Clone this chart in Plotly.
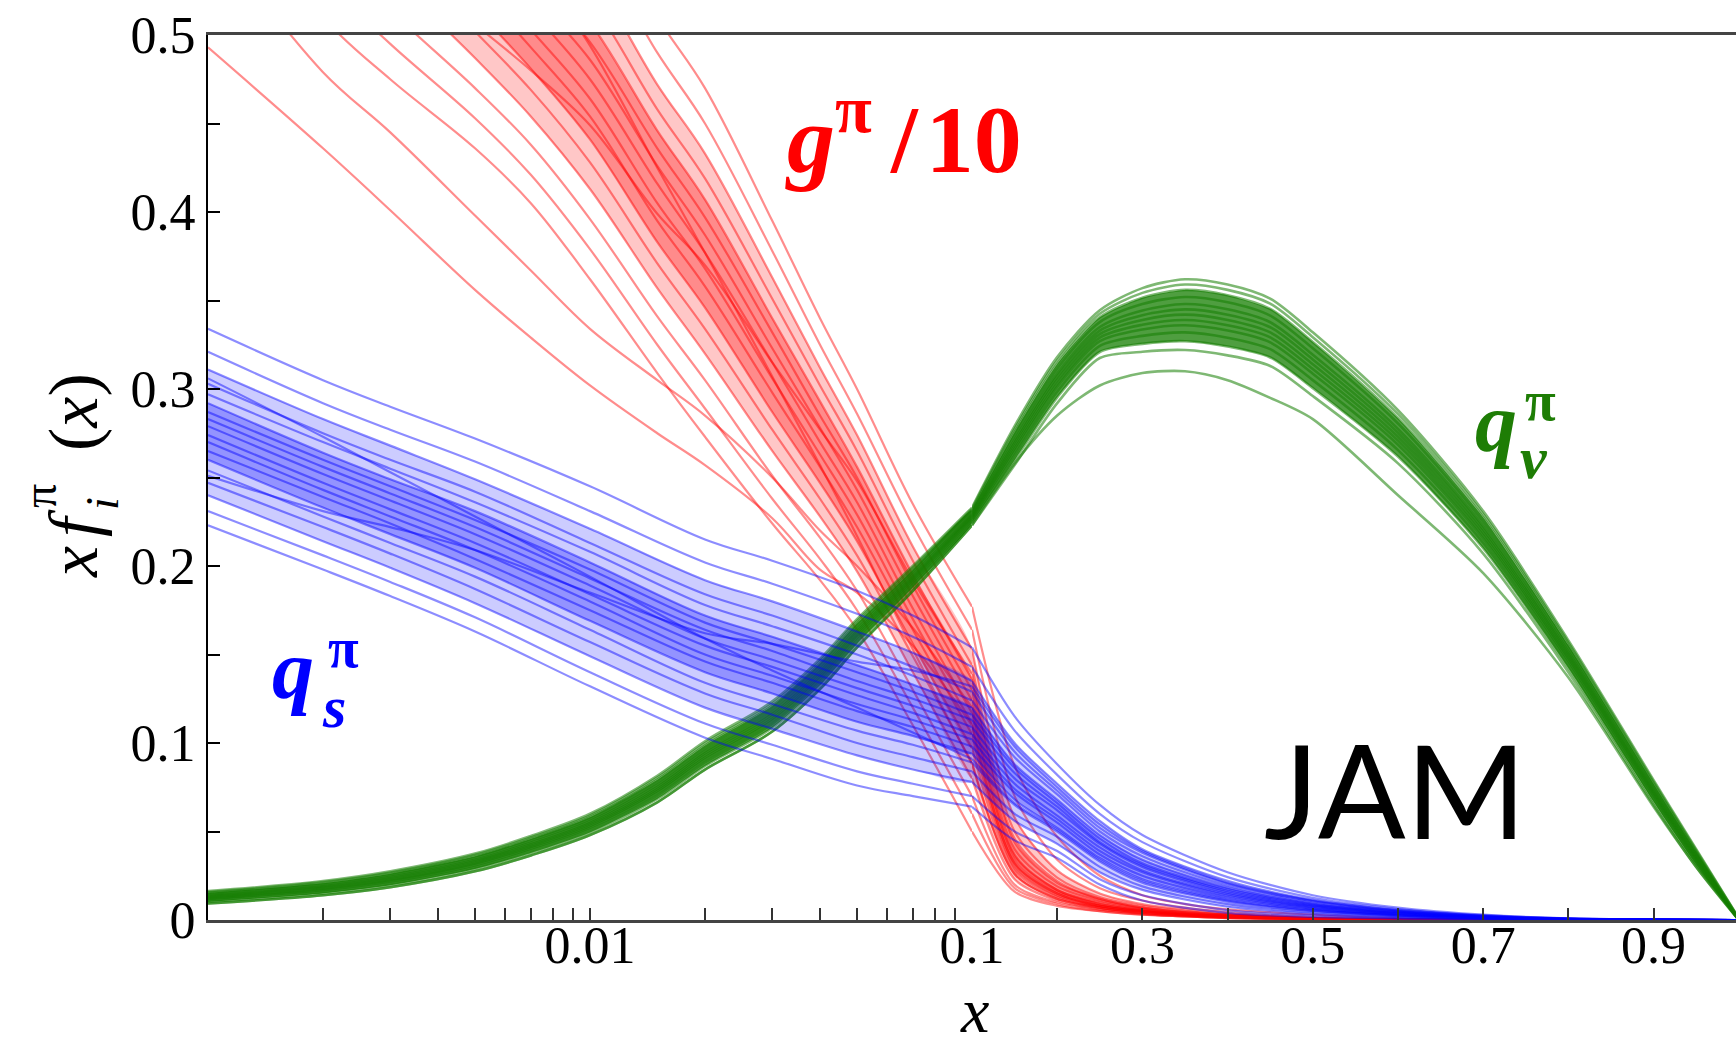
import plotly.graph_objects as go

# ---------------- data ----------------
# g^pi / 10 replicas (red)
RED_X_LOG = [0.001, 0.002, 0.003, 0.005, 0.007, 0.01, 0.015, 0.02, 0.03, 0.04, 0.05, 0.07, 0.1]
RED_X_LIN = [0.1, 0.15, 0.2, 0.25, 0.3, 0.35, 0.4, 0.5, 0.6, 0.8, 1.0]
RED_LOG = [
    [0.600, 0.510, 0.475, 0.436, 0.405, 0.362, 0.309, 0.273, 0.224, 0.192, 0.164, 0.110, 0.050],
    [0.622, 0.532, 0.495, 0.453, 0.421, 0.379, 0.325, 0.289, 0.238, 0.204, 0.175, 0.120, 0.060],
    [0.645, 0.553, 0.514, 0.470, 0.438, 0.396, 0.341, 0.305, 0.251, 0.216, 0.186, 0.130, 0.070],
    [0.667, 0.575, 0.534, 0.487, 0.454, 0.413, 0.357, 0.320, 0.265, 0.228, 0.197, 0.140, 0.080],
    [0.687, 0.594, 0.551, 0.502, 0.469, 0.428, 0.371, 0.334, 0.277, 0.238, 0.206, 0.149, 0.089],
    [0.704, 0.610, 0.566, 0.515, 0.481, 0.441, 0.383, 0.346, 0.287, 0.247, 0.214, 0.156, 0.097],
    [0.720, 0.626, 0.580, 0.528, 0.493, 0.454, 0.395, 0.358, 0.298, 0.256, 0.222, 0.164, 0.105],
    [0.734, 0.640, 0.593, 0.539, 0.503, 0.464, 0.405, 0.368, 0.306, 0.263, 0.229, 0.170, 0.111],
    [0.748, 0.653, 0.605, 0.549, 0.514, 0.475, 0.416, 0.377, 0.315, 0.270, 0.236, 0.176, 0.117],
    [0.762, 0.667, 0.617, 0.560, 0.524, 0.486, 0.426, 0.387, 0.323, 0.278, 0.243, 0.183, 0.124],
    [0.776, 0.680, 0.629, 0.571, 0.534, 0.496, 0.436, 0.397, 0.332, 0.285, 0.250, 0.189, 0.130],
    [0.790, 0.694, 0.642, 0.582, 0.544, 0.507, 0.446, 0.407, 0.340, 0.293, 0.256, 0.195, 0.136],
    [0.807, 0.710, 0.656, 0.594, 0.557, 0.520, 0.458, 0.419, 0.351, 0.302, 0.265, 0.203, 0.144],
    [0.827, 0.729, 0.673, 0.609, 0.571, 0.535, 0.472, 0.433, 0.363, 0.312, 0.274, 0.211, 0.153],
    [0.852, 0.753, 0.696, 0.629, 0.590, 0.554, 0.490, 0.450, 0.378, 0.325, 0.286, 0.223, 0.164],
    [0.880, 0.780, 0.720, 0.650, 0.610, 0.575, 0.510, 0.470, 0.395, 0.340, 0.300, 0.235, 0.177],
    [0.656, 0.575, 0.544, 0.506, 0.480, 0.449, 0.399, 0.370, 0.315, 0.277, 0.248, 0.192, 0.139],
    [0.838, 0.727, 0.661, 0.589, 0.542, 0.494, 0.425, 0.377, 0.307, 0.257, 0.217, 0.153, 0.088],
    [0.493, 0.436, 0.401, 0.356, 0.329, 0.302, 0.275, 0.257, 0.227, 0.198, 0.185, 0.155, 0.110],
    [0.560, 0.479, 0.445, 0.398, 0.367, 0.334, 0.305, 0.285, 0.250, 0.220, 0.200, 0.165, 0.120],
]
RED_LIN_TAIL = [
    [0.016, 0.008, 0.005, 0.003, 0.002, 0.001, 0.0003, 0, 0, 0],
    [0.018, 0.009, 0.005, 0.003, 0.002, 0.001, 0.0003, 0, 0, 0],
    [0.020, 0.010, 0.006, 0.0035, 0.002, 0.0012, 0.0004, 0.0001, 0, 0],
    [0.023, 0.011, 0.006, 0.004, 0.0025, 0.0015, 0.0005, 0.0001, 0, 0],
    [0.026, 0.012, 0.007, 0.004, 0.0025, 0.0015, 0.0005, 0.0001, 0, 0],
    [0.028, 0.013, 0.007, 0.0045, 0.003, 0.0018, 0.0006, 0.0002, 0, 0],
    [0.030, 0.014, 0.008, 0.005, 0.003, 0.002, 0.0007, 0.0002, 0, 0],
    [0.032, 0.015, 0.008, 0.005, 0.003, 0.002, 0.0007, 0.0002, 0, 0],
    [0.034, 0.016, 0.009, 0.0055, 0.0035, 0.0022, 0.0008, 0.0002, 0, 0],
    [0.037, 0.017, 0.010, 0.006, 0.0035, 0.0023, 0.0008, 0.0002, 0, 0],
    [0.040, 0.019, 0.011, 0.0065, 0.004, 0.0025, 0.0009, 0.0003, 0, 0],
    [0.044, 0.021, 0.012, 0.007, 0.0045, 0.003, 0.001, 0.0003, 0, 0],
    [0.050, 0.024, 0.013, 0.008, 0.005, 0.003, 0.001, 0.0003, 0, 0],
    [0.058, 0.028, 0.015, 0.009, 0.006, 0.0035, 0.0012, 0.0004, 0, 0],
    [0.070, 0.034, 0.018, 0.011, 0.007, 0.0045, 0.0015, 0.0005, 0.0001, 0],
    [0.087, 0.047, 0.025, 0.014, 0.009, 0.006, 0.003, 0.001, 0.0002, 0],
    [0.046, 0.022, 0.012, 0.007, 0.0045, 0.003, 0.001, 0.0003, 0, 0],
    [0.026, 0.012, 0.007, 0.004, 0.0025, 0.0015, 0.0005, 0.0001, 0, 0],
    [0.032, 0.015, 0.008, 0.005, 0.003, 0.002, 0.0007, 0.0002, 0, 0],
    [0.036, 0.017, 0.009, 0.0055, 0.0035, 0.0022, 0.0008, 0.0002, 0, 0],
]
# replica indices bounding the dense cores (outer and inner)
RED_CORE_OUTER = (3, 13)
RED_CORE_INNER = (5, 11)

# sea quark q_s^pi replicas (blue)
BLUE_X_LOG = [0.001, 0.002, 0.003, 0.005, 0.01, 0.02, 0.03, 0.05, 0.07, 0.1]
BLUE_X_LIN = [0.1, 0.15, 0.2, 0.25, 0.3, 0.4, 0.5, 0.6, 0.7, 0.8, 1.0]
BLUE_LOG = [
    [0.223, 0.198, 0.183, 0.163, 0.132, 0.103, 0.091, 0.076, 0.070, 0.064],
    [0.231, 0.206, 0.191, 0.171, 0.140, 0.111, 0.099, 0.084, 0.077, 0.070],
    [0.240, 0.214, 0.199, 0.179, 0.149, 0.120, 0.108, 0.093, 0.085, 0.078],
    [0.247, 0.222, 0.207, 0.187, 0.157, 0.128, 0.116, 0.100, 0.092, 0.084],
    [0.254, 0.228, 0.213, 0.194, 0.164, 0.134, 0.122, 0.107, 0.099, 0.089],
    [0.260, 0.233, 0.218, 0.199, 0.169, 0.140, 0.128, 0.112, 0.104, 0.094],
    [0.265, 0.239, 0.224, 0.204, 0.175, 0.146, 0.134, 0.118, 0.109, 0.098],
    [0.270, 0.243, 0.228, 0.209, 0.180, 0.150, 0.138, 0.122, 0.113, 0.102],
    [0.274, 0.247, 0.232, 0.213, 0.184, 0.155, 0.143, 0.127, 0.117, 0.105],
    [0.279, 0.252, 0.237, 0.218, 0.189, 0.159, 0.147, 0.131, 0.121, 0.109],
    [0.283, 0.256, 0.241, 0.222, 0.193, 0.164, 0.152, 0.135, 0.125, 0.113],
    [0.287, 0.260, 0.245, 0.226, 0.198, 0.168, 0.156, 0.140, 0.129, 0.116],
    [0.292, 0.264, 0.249, 0.231, 0.202, 0.172, 0.160, 0.144, 0.133, 0.120],
    [0.297, 0.270, 0.255, 0.236, 0.208, 0.178, 0.166, 0.150, 0.138, 0.124],
    [0.303, 0.275, 0.260, 0.242, 0.213, 0.184, 0.172, 0.155, 0.143, 0.129],
    [0.311, 0.283, 0.268, 0.249, 0.221, 0.192, 0.180, 0.163, 0.151, 0.135],
    [0.321, 0.292, 0.277, 0.259, 0.231, 0.202, 0.190, 0.173, 0.160, 0.143],
    [0.334, 0.305, 0.290, 0.272, 0.245, 0.215, 0.203, 0.186, 0.172, 0.154],
    [0.306, 0.273, 0.253, 0.228, 0.194, 0.159, 0.141, 0.120, 0.106, 0.091],
    [0.251, 0.231, 0.222, 0.209, 0.185, 0.162, 0.156, 0.146, 0.141, 0.132],
]
BLUE_LIN_TAIL = [
    [0.045, 0.035, 0.020, 0.011, 0.004, 0.0017, 0.0007, 0.0002, 0, 0],
    [0.050, 0.039, 0.023, 0.014, 0.0056, 0.0026, 0.0011, 0.0004, 0.0001, 0],
    [0.056, 0.043, 0.027, 0.017, 0.0075, 0.0035, 0.0016, 0.0006, 0.0002, 0],
    [0.060, 0.047, 0.030, 0.019, 0.009, 0.0044, 0.0021, 0.0008, 0.0002, 0],
    [0.065, 0.050, 0.033, 0.021, 0.0104, 0.0051, 0.0025, 0.0010, 0.0003, 0],
    [0.068, 0.052, 0.035, 0.023, 0.0116, 0.0058, 0.0028, 0.0011, 0.0003, 0],
    [0.072, 0.055, 0.037, 0.025, 0.0127, 0.0064, 0.0031, 0.0013, 0.0004, 0],
    [0.074, 0.057, 0.039, 0.027, 0.0137, 0.0069, 0.0033, 0.0014, 0.0004, 0],
    [0.077, 0.059, 0.041, 0.028, 0.0146, 0.0074, 0.0036, 0.0015, 0.0005, 0],
    [0.080, 0.062, 0.043, 0.030, 0.0155, 0.0079, 0.0039, 0.0016, 0.0005, 0],
    [0.083, 0.064, 0.044, 0.031, 0.0164, 0.0083, 0.0041, 0.0017, 0.0005, 0],
    [0.086, 0.066, 0.046, 0.032, 0.0173, 0.0088, 0.0044, 0.0018, 0.0006, 0],
    [0.088, 0.068, 0.048, 0.034, 0.0183, 0.0093, 0.0046, 0.0019, 0.0006, 0],
    [0.092, 0.071, 0.050, 0.036, 0.0194, 0.0099, 0.0049, 0.0021, 0.0007, 0],
    [0.095, 0.073, 0.052, 0.038, 0.0206, 0.0106, 0.0052, 0.0022, 0.0007, 0],
    [0.100, 0.077, 0.056, 0.040, 0.0222, 0.0114, 0.0057, 0.0024, 0.0008, 0],
    [0.107, 0.082, 0.060, 0.044, 0.0242, 0.0125, 0.0062, 0.0027, 0.0009, 0],
    [0.115, 0.088, 0.065, 0.048, 0.027, 0.014, 0.007, 0.003, 0.001, 0],
    [0.066, 0.051, 0.034, 0.022, 0.011, 0.0054, 0.0026, 0.001, 0.0003, 0],
    [0.098, 0.075, 0.054, 0.039, 0.021, 0.011, 0.0054, 0.0023, 0.0008, 0],
]
BLUE_CORE_OUTER = (2, 15)
BLUE_CORE_INNER = (5, 12)

# valence q_v^pi replicas (green)
GREEN_X_LOG = [0.001, 0.002, 0.003, 0.005, 0.007, 0.01, 0.015, 0.02, 0.03, 0.04, 0.05, 0.07, 0.1]
GREEN_X_LIN = [0.1, 0.15, 0.2, 0.25, 0.3, 0.35, 0.4, 0.45, 0.5, 0.6, 0.7, 0.8, 0.9, 0.95, 1.0]
GREEN_LOG = [
    [0.0093, 0.0140, 0.0185, 0.0275, 0.0365, 0.0480, 0.0665, 0.0850, 0.1065, 0.1305, 0.1540, 0.1860, 0.2230],
    [0.0102, 0.0150, 0.0196, 0.0288, 0.0379, 0.0495, 0.0684, 0.0870, 0.1086, 0.1326, 0.1560, 0.1878, 0.2243],
    [0.0111, 0.0160, 0.0208, 0.0300, 0.0393, 0.0510, 0.0703, 0.0890, 0.1108, 0.1348, 0.1580, 0.1895, 0.2255],
    [0.0118, 0.0168, 0.0217, 0.0310, 0.0404, 0.0522, 0.0718, 0.0906, 0.1125, 0.1365, 0.1596, 0.1909, 0.2265],
    [0.0123, 0.0174, 0.0223, 0.0318, 0.0412, 0.0531, 0.0729, 0.0918, 0.1137, 0.1377, 0.1608, 0.1920, 0.2273],
    [0.0128, 0.0180, 0.0230, 0.0325, 0.0420, 0.0540, 0.0740, 0.0930, 0.1150, 0.1390, 0.1620, 0.1930, 0.2280],
    [0.0133, 0.0186, 0.0237, 0.0333, 0.0428, 0.0549, 0.0751, 0.0942, 0.1163, 0.1403, 0.1632, 0.1940, 0.2288],
    [0.0139, 0.0192, 0.0244, 0.0340, 0.0437, 0.0558, 0.0763, 0.0954, 0.1176, 0.1416, 0.1644, 0.1951, 0.2295],
    [0.0146, 0.0200, 0.0253, 0.0350, 0.0448, 0.0570, 0.0778, 0.0970, 0.1193, 0.1433, 0.1660, 0.1965, 0.2305],
    [0.0153, 0.0208, 0.0262, 0.0360, 0.0459, 0.0582, 0.0793, 0.0986, 0.1210, 0.1450, 0.1676, 0.1979, 0.2315],
    [0.0158, 0.0214, 0.0268, 0.0368, 0.0467, 0.0591, 0.0804, 0.0998, 0.1222, 0.1462, 0.1688, 0.1990, 0.2323],
    [0.0163, 0.0220, 0.0275, 0.0375, 0.0475, 0.0600, 0.0815, 0.1010, 0.1235, 0.1475, 0.1700, 0.2000, 0.2330],
    [0.0093, 0.0140, 0.0185, 0.0275, 0.0365, 0.0480, 0.0665, 0.0850, 0.1065, 0.1305, 0.1540, 0.1860, 0.2230],
]
GREEN_LIN_TAIL = [
    [0.2570, 0.2920, 0.3175, 0.3210, 0.3220, 0.3190, 0.3130, 0.2960, 0.2580, 0.2070, 0.1400, 0.0650, 0.0300, 0.0],
    [0.2598, 0.2953, 0.3209, 0.3255, 0.3270, 0.3240, 0.3178, 0.3005, 0.2618, 0.2100, 0.1423, 0.0668, 0.0313, 0.0],
    [0.2625, 0.2985, 0.3243, 0.3300, 0.3320, 0.3290, 0.3225, 0.3050, 0.2655, 0.2130, 0.1445, 0.0685, 0.0325, 0.0],
    [0.2647, 0.3011, 0.3270, 0.3336, 0.3360, 0.3330, 0.3263, 0.3086, 0.2685, 0.2154, 0.1463, 0.0699, 0.0335, 0.0],
    [0.2664, 0.3030, 0.3290, 0.3363, 0.3390, 0.3360, 0.3292, 0.3113, 0.2708, 0.2172, 0.1477, 0.0710, 0.0343, 0.0],
    [0.2680, 0.3050, 0.3310, 0.3390, 0.3420, 0.3390, 0.3320, 0.3140, 0.2730, 0.2190, 0.1490, 0.0720, 0.0350, 0.0],
    [0.2697, 0.3070, 0.3330, 0.3417, 0.3450, 0.3420, 0.3349, 0.3167, 0.2753, 0.2208, 0.1504, 0.0730, 0.0358, 0.0002],
    [0.2713, 0.3089, 0.3350, 0.3444, 0.3480, 0.3450, 0.3377, 0.3194, 0.2775, 0.2226, 0.1517, 0.0741, 0.0365, 0.0003],
    [0.2735, 0.3115, 0.3378, 0.3480, 0.3520, 0.3490, 0.3415, 0.3230, 0.2805, 0.2250, 0.1535, 0.0755, 0.0375, 0.0005],
    [0.2757, 0.3141, 0.3405, 0.3516, 0.3560, 0.3530, 0.3453, 0.3266, 0.2835, 0.2274, 0.1553, 0.0769, 0.0385, 0.0007],
    [0.2774, 0.3161, 0.3425, 0.3543, 0.3590, 0.3560, 0.3482, 0.3293, 0.2858, 0.2292, 0.1567, 0.0780, 0.0393, 0.0009],
    [0.2790, 0.3180, 0.3445, 0.3570, 0.3620, 0.3590, 0.3510, 0.3320, 0.2880, 0.2310, 0.1580, 0.0790, 0.0400, 0.0010],
    [0.2580, 0.2850, 0.3020, 0.3090, 0.3100, 0.3050, 0.2950, 0.2830, 0.2400, 0.1960, 0.1370, 0.0640, 0.0300, 0.0],
]
GREEN_CORE = (1, 9)

LOG_MAJOR = [0.01]
LOG_MAJOR_TEXT = ["0.01"]
LOG_MINOR = [0.002, 0.003, 0.004, 0.005, 0.006, 0.007, 0.008, 0.009,
             0.02, 0.03, 0.04, 0.05, 0.06, 0.07, 0.08, 0.09]
LIN_MAJOR = [0.1, 0.3, 0.5, 0.7, 0.9]
LIN_MAJOR_TEXT = ["0.1", "0.3", "0.5", "0.7", "0.9"]
LIN_MINOR = [0.2, 0.4, 0.6, 0.8]
Y_MAJOR = [0, 0.1, 0.2, 0.3, 0.4, 0.5]
Y_MAJOR_TEXT = ["0", "0.1", "0.2", "0.3", "0.4", "0.5"]
Y_MINOR = [0.05, 0.15, 0.25, 0.35, 0.45]

# ---------------- geometry (pixels of the 1736x1046 page) ----------------
W, H = 1736, 1046
PL, PR, PT, PB = 208, 1736, 35, 920


def px_x(p):
    return (p - PL) / (PR - PL)


def px_y(p):
    return (PB - p) / (PB - PT)


fig = go.Figure()


def add_band(xlog, xlin, rows_log, rows_tail, pair, color):
    lo_i, hi_i = pair
    lo_log, hi_log = rows_log[lo_i], rows_log[hi_i]
    fig.add_trace(go.Scatter(
        x=xlog + xlog[::-1], y=lo_log + hi_log[::-1], xaxis="x", yaxis="y",
        mode="lines", fill="toself", fillcolor=color,
        line=dict(width=0, shape="spline", smoothing=0.6),
        hoverinfo="skip", showlegend=False))
    lo = [lo_log[-1]] + rows_tail[lo_i]
    hi = [hi_log[-1]] + rows_tail[hi_i]
    fig.add_trace(go.Scatter(
        x=xlin + xlin[::-1], y=lo + hi[::-1], xaxis="x2", yaxis="y",
        mode="lines", fill="toself", fillcolor=color,
        line=dict(width=0, shape="spline", smoothing=0.6),
        hoverinfo="skip", showlegend=False))


def add_group(xlog, xlin, rows_log, rows_tail, color, width):
    for rl, rt in zip(rows_log, rows_tail):
        fig.add_trace(go.Scatter(
            x=xlog, y=rl, xaxis="x", yaxis="y", mode="lines",
            line=dict(color=color, width=width, shape="spline", smoothing=1.0),
            hoverinfo="skip", showlegend=False))
        fig.add_trace(go.Scatter(
            x=xlin, y=[rl[-1]] + rt, xaxis="x2", yaxis="y", mode="lines",
            line=dict(color=color, width=width, shape="spline", smoothing=0.8),
            hoverinfo="skip", showlegend=False))


RED = "rgba(255,0,0,0.45)"
BLUE = "rgba(0,0,255,0.45)"
GREEN = "rgba(20,125,0,0.55)"

add_band(RED_X_LOG, RED_X_LIN, RED_LOG, RED_LIN_TAIL, RED_CORE_OUTER, "rgba(255,0,0,0.22)")
add_band(RED_X_LOG, RED_X_LIN, RED_LOG, RED_LIN_TAIL, RED_CORE_INNER, "rgba(255,0,0,0.30)")
add_group(RED_X_LOG, RED_X_LIN, RED_LOG, RED_LIN_TAIL, RED, 2.2)
add_band(GREEN_X_LOG, GREEN_X_LIN, GREEN_LOG, GREEN_LIN_TAIL, GREEN_CORE, "rgba(20,125,0,0.75)")
add_group(GREEN_X_LOG, GREEN_X_LIN, GREEN_LOG, GREEN_LIN_TAIL, GREEN, 2.6)
add_band(BLUE_X_LOG, BLUE_X_LIN, BLUE_LOG, BLUE_LIN_TAIL, BLUE_CORE_OUTER, "rgba(0,0,255,0.20)")
add_band(BLUE_X_LOG, BLUE_X_LIN, BLUE_LOG, BLUE_LIN_TAIL, BLUE_CORE_INNER, "rgba(0,0,255,0.28)")
add_group(BLUE_X_LOG, BLUE_X_LIN, BLUE_LOG, BLUE_LIN_TAIL, BLUE, 2.2)

SERIF = "Liberation Serif"
tickfont = dict(family=SERIF, size=52, color="black")
xcommon = dict(ticks="inside", ticklen=12, tickwidth=1.5, tickcolor="#333",
               showline=True, linecolor="#444", linewidth=3, mirror=True,
               showgrid=False, zeroline=False, tickfont=tickfont, anchor="y",
               ticklabelstandoff=-22)

fig.update_layout(
    width=W, height=H,
    margin=dict(l=PL, r=W - PR, t=PT, b=H - PB),
    paper_bgcolor="white", plot_bgcolor="white", showlegend=False,
    xaxis=dict(type="log", range=[-3, -1], domain=[0, 0.5],
               tickmode="array", tickvals=LOG_MAJOR, ticktext=LOG_MAJOR_TEXT,
               minor=dict(tickmode="array", tickvals=LOG_MINOR, ticks="inside",
                          ticklen=12, tickwidth=1.5, tickcolor="#333", showgrid=False),
               **xcommon),
    xaxis2=dict(type="linear", range=[0.1, 0.1 + 764 / 852], domain=[0.5, 1],
                tickmode="array", tickvals=LIN_MAJOR, ticktext=LIN_MAJOR_TEXT,
                minor=dict(tickmode="array", tickvals=LIN_MINOR, ticks="inside",
                           ticklen=12, tickwidth=1.5, tickcolor="#333", showgrid=False),
                **xcommon),
    yaxis=dict(range=[0, 0.5], domain=[0, 1], tickmode="array", tickvals=Y_MAJOR,
               ticktext=Y_MAJOR_TEXT, ticks="inside", ticklen=12, tickwidth=1.5,
               tickcolor="black", showline=True, linecolor="black", linewidth=2,
               minor=dict(tickmode="array", tickvals=Y_MINOR, ticks="inside",
                          ticklen=12, tickwidth=1.5, tickcolor="black", showgrid=False),
               showgrid=False, zeroline=False, tickfont=tickfont),
)


def ann(text, xp, yp, size, color="black", family=SERIF, xanchor="center",
        yanchor="middle", angle=0):
    fig.add_annotation(text=text, x=px_x(xp), y=px_y(yp), xref="paper", yref="paper",
                       xanchor=xanchor, yanchor=yanchor, showarrow=False,
                       textangle=angle, font=dict(family=family, size=size, color=color))


# curve labels
ann("<b><i>g</i><sup>π</sup>\u2009/\u200a10</b>", 783, 132, 96, "red", xanchor="left")
ann("<b><i>q</i></b>", 270, 669, 84, "blue", xanchor="left")
ann("<b>π</b>", 326, 648, 56, "blue", xanchor="left")
ann("<b><i>s</i></b>", 320, 707, 60, "blue", xanchor="left")
ann("<b><i>q</i></b>", 1473, 422, 84, "#1e7d05", xanchor="left")
ann("<b>π</b>", 1523, 401, 56, "#1e7d05", xanchor="left")
ann("<b><i>v</i></b>", 1518, 458, 60, "#1e7d05", xanchor="left")
ann("JAM", 1395, 789, 130, "black", family="Lato")

# axis titles
ann("<i>x</i>", 974, 1010, 64)
ann("<i>x</i>", 73, 562, 70, angle=-90)
ann("<i>f</i>", 73, 523, 70, angle=-90)
ann("<i>i</i>", 103, 504, 46, angle=-90)
ann("π", 40, 496, 48, angle=-90)
ann("(<i>x</i>)", 73, 412, 70, angle=-90)

fig.write_html("out.html", config={"displayModeBar": False})
